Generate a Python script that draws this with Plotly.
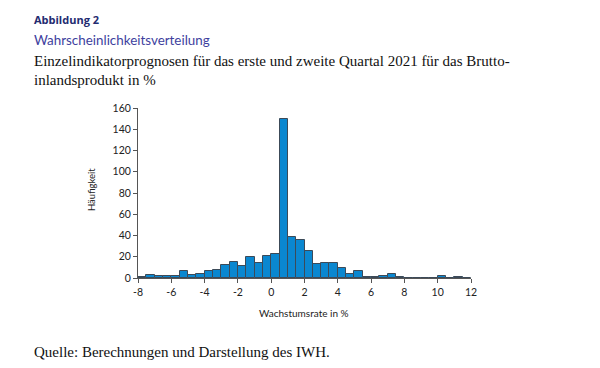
import plotly.graph_objects as go

bin_start = [-8.0, -7.5, -7.0, -6.5, -6.0, -5.5, -5.0, -4.5, -4.0, -3.5,
             -3.0, -2.5, -2.0, -1.5, -1.0, -0.5, 0.0, 0.5, 1.0, 1.5,
             2.0, 2.5, 3.0, 3.5, 4.0, 4.5, 5.0, 5.5, 6.0, 6.5,
             7.0, 7.5, 8.0, 8.5, 9.0, 9.5, 10.0, 10.5, 11.0, 11.5]
counts = [1, 3, 2, 2, 2, 7, 3, 4, 7, 8,
          12, 15, 11, 20, 14, 21, 23, 150, 39, 36,
          25, 13, 14, 14, 9, 4, 7, 1, 1, 2,
          4, 1, 0, 0, 0, 0, 2, 0, 1, 0]
bin_width = 0.5
x_ticks = [-8, -6, -4, -2, 0, 2, 4, 6, 8, 10, 12]
y_ticks = [0, 20, 40, 60, 80, 100, 120, 140, 160]

OFF = 8  # default page body margin
W, H = 600 - OFF, 368 - OFF
L, R, T, B = 138, 471, 108, 278  # target screen pixels


def px(x):
    return (x - L) / (R - L)


def py(y):
    return (B - y) / (B - T)


fig = go.Figure()
fig.add_trace(go.Bar(
    x=[s + bin_width / 2 for s in bin_start],
    y=counts,
    width=bin_width,
    marker=dict(color="#0A87D0", line=dict(color="#3C4A58", width=1)),
    hoverinfo="x+y",
))

sans = "Lato"
serif = "Liberation Serif"

ann = [
    dict(text="<b>Abbildung 2</b>", x=px(32), y=py(19), font=dict(family="Open Sans", size=11, color="#232B70")),
    dict(text="Wahrscheinlichkeitsverteilung", x=px(32), y=py(40), font=dict(family=sans, size=13.4, color="#3E3F9E")),
    dict(text="Einzelindikatorprognosen für das erste und zweite Quartal 2021 für das Brutto-",
         x=px(32), y=py(61), font=dict(family=serif, size=15, color="#111111")),
    dict(text="inlandsprodukt in %", x=px(32), y=py(80), font=dict(family=serif, size=15, color="#111111")),
    dict(text="Quelle: Berechnungen und Darstellung des IWH.", x=px(32), y=py(352),
         font=dict(family=serif, size=15, color="#111111")),
]
annotations = []
for a in ann:
    a.update(xref="paper", yref="paper", xanchor="left", yanchor="middle", showarrow=False)
    annotations.append(a)
annotations.append(dict(text="Häufigkeit", x=px(91), y=py(190), xref="paper", yref="paper",
                        textangle=-90, showarrow=False, xanchor="center", yanchor="middle",
                        font=dict(family=sans, size=9.5, color="#222222")))
annotations.append(dict(text="Wachstumsrate in %", x=px(304), y=py(313), xref="paper", yref="paper",
                        showarrow=False, xanchor="center", yanchor="middle",
                        font=dict(family=sans, size=10, color="#222222")))

fig.update_layout(
    width=W, height=H, autosize=False,
    margin=dict(l=L - OFF, r=W - (R - OFF), t=T - OFF, b=H - (B - OFF), pad=0),
    paper_bgcolor="white", plot_bgcolor="white",
    showlegend=False, bargap=0,
    annotations=annotations,
    xaxis=dict(range=[-8, 12], tickvals=x_ticks, ticktext=[str(v) for v in x_ticks],
               showgrid=False, zeroline=False, showline=True, linecolor="#555555", linewidth=1,
               ticks="outside", ticklen=4, tickcolor="#555555",
               tickfont=dict(family=sans, size=10.5, color="#222222")),
    yaxis=dict(range=[0, 160], tickvals=y_ticks, showgrid=False, zeroline=False,
               showline=True, linecolor="#555555", linewidth=1,
               ticks="outside", ticklen=4, tickcolor="#555555",
               tickfont=dict(family=sans, size=10.5, color="#222222")),
)

fig.write_html("out.html")
